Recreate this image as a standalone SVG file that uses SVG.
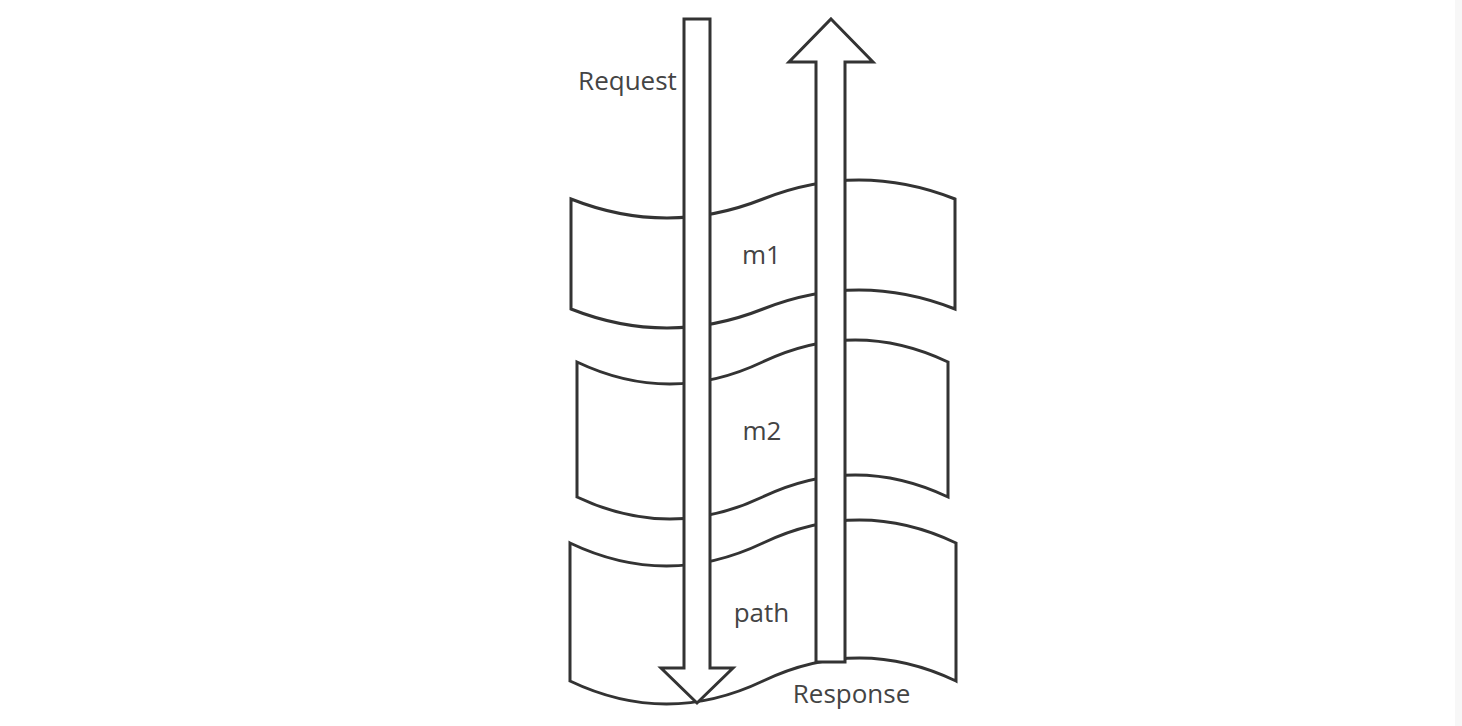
<svg xmlns="http://www.w3.org/2000/svg" width="1462" height="726" viewBox="0 0 1462 726">
  <style>
    .shape { fill: #ffffff; stroke: #333333; stroke-width: 3; stroke-linejoin: miter; }
    .label { font-family: "Open Sans", "Liberation Sans", sans-serif; font-size: 26px; fill: #444444; text-anchor: middle; }
  </style>
  <rect x="0" y="0" width="1462" height="726" fill="#ffffff"/>
  <rect x="1455" y="0" width="7" height="726" fill="#f7f7f7"/>

  <g id="node-m1">
    <path class="shape" d="M571,199 Q667,237 763,199 Q859,161 955,199 L955,309 Q859,271 763,309 Q667,347 571,309 Z"/>
    <text class="label" x="761.5" y="264">m1</text>
  </g>
  <g id="node-m2">
    <path class="shape" d="M577,362 Q669.75,406 762.5,362 Q855.25,318 948,362 L948,497 Q855.25,453 762.5,497 Q669.75,541 577,497 Z"/>
    <text class="label" x="762" y="440">m2</text>
  </g>
  <g id="node-path">
    <path class="shape" d="M570,543 Q666.5,589 763,543 Q859.5,497 956,543 L956,681 Q859.5,635 763,681 Q666.5,727 570,681 Z"/>
    <text class="label" x="761.5" y="622">path</text>
  </g>

  <g id="connectors">
    <g id="request">
      <path class="shape" d="M684,19 L710,19 L710,668 L733,668 L697,703 L661,668 L684,668 Z"/>
      <text class="label" x="627.5" y="90">Request</text>
    </g>
    <g id="response">
      <path class="shape" d="M831,19 L873,62 L845,62 L845,662 L816,662 L816,62 L789,62 Z"/>
      <text class="label" x="851.5" y="703">Response</text>
    </g>
  </g>
</svg>
